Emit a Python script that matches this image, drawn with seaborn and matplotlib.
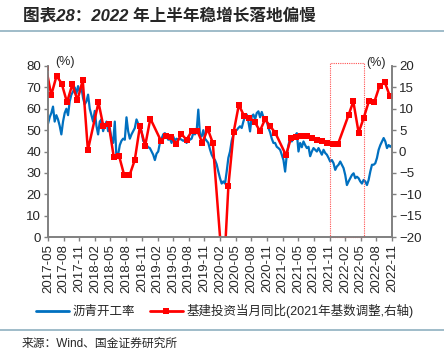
import matplotlib
matplotlib.use("Agg")
import matplotlib.pyplot as plt
from matplotlib.lines import Line2D
from matplotlib.patches import Rectangle
import pandas as pd
import seaborn as sns

# asphalt operating rate (%), roughly every 10 days from 2017-05 to 2022-11
asphalt_rate = [
    53, 56, 58, 61, 54, 57, 55, 52, 48, 54, 58, 60, 57, 63.5, 66.6, 68, 70, 67, 70.6, 68,
    70, 65, 62, 63.5, 66.6, 60, 57, 54, 59, 52, 48, 54, 55, 49.5, 52, 54, 49.5, 51, 46, 44,
    54, 37, 38.5, 43, 45, 46, 45.5, 56, 49.5, 46, 48, 49.5, 51, 55, 53, 52, 49.5, 45, 44, 43,
    42, 41.6, 40, 38.5, 36, 39, 40, 44, 46, 48, 48.6, 47, 45.5, 46, 44, 47, 45, 46, 45.5, 46,
    45.5, 45, 45.5, 44, 47, 45.5, 46, 48.6, 48, 49.5, 59.6, 48, 47, 50, 46, 45, 44, 41, 38.5, 37,
    36, 34, 30.6, 27.5, 25, 26, 25, 30.6, 37, 40,
    45, 47.8, 49.4, 50, 51, 51.8, 51, 54, 56.5, 57.3, 54, 49.4, 56.5, 57.3, 55, 58, 58.8, 56,
    58.5, 56, 55, 54, 51, 49, 46, 44, 44, 42.2, 41.6, 40.8, 38.5, 36, 30.6, 38.5, 43, 46.3,
    44.7, 46.3, 47, 48.6, 40, 44, 42, 44.7, 43, 41.6, 42.2, 37.8, 40, 41.6, 40.8, 40, 41.6, 40,
    38.5, 40.8, 39.3, 38.5, 37, 35.3, 36, 34.5, 31.4, 33, 33.8, 35.3, 33.8, 32.2, 29, 24.3, 26,
    27.5, 29, 29.8, 27.5, 28.2, 27.5, 26, 25, 26.7, 26, 24.3, 26.7, 30.6, 33.8, 33.8, 34.5, 37,
    40.8, 43, 44.7, 46.3, 44.7, 41.6, 43, 42.2, 43,
]
asphalt_start = "2017-05-01"
asphalt_end = "2022-11-01"

# infrastructure investment, monthly yoy (%), right axis
infra_months = [
    "2017-04", "2017-05", "2017-06", "2017-07", "2017-08", "2017-09", "2017-10", "2017-11", "2017-12",
    "2018-02", "2018-03", "2018-04", "2018-05", "2018-06", "2018-07", "2018-08", "2018-09", "2018-10",
    "2018-11", "2018-12",
    "2019-02", "2019-03", "2019-04", "2019-05", "2019-06", "2019-07", "2019-08", "2019-09", "2019-10",
    "2019-11", "2019-12",
    "2020-02", "2020-03", "2020-04", "2020-05", "2020-06", "2020-07", "2020-08", "2020-09", "2020-10",
    "2020-11", "2020-12",
    "2021-02", "2021-03", "2021-04", "2021-05", "2021-06", "2021-07", "2021-08", "2021-09", "2021-10",
    "2021-11", "2021-12",
    "2022-02", "2022-03", "2022-04", "2022-05", "2022-06", "2022-07", "2022-08", "2022-09", "2022-10",
]
infra_yoy = [
    19.5, 13.2, 17.7, 15.9, 11.5, 15.7, 12.0, 16.7, 0.3,
    11.5, 6.0, 6.5, -1.2, -1.0, -5.5, -5.6, -2.0, 5.9, 1.4, 7.7,
    2.5, 3.6, 3.3, 1.8, 4.1, 2.7, 4.9, 4.9, 2.0, 5.3, 2.0,
    -30.3, -8.1, 4.6, 10.9, 8.3, 7.8, 7.0, 4.8, 7.5, 5.9, 4.3,
    -0.9, 3.1, 3.5, 3.6, 3.7, 3.1, 2.7, 2.4, 2.1, 1.8, 1.7,
    8.5, 11.7, 4.4, 7.9, 11.9, 11.5, 15.3, 16.2, 12.9,
]

tick_labels = [
    "2017-05", "2017-08", "2017-11", "2018-02", "2018-05", "2018-08", "2018-11", "2019-02",
    "2019-05", "2019-08", "2019-11", "2020-02", "2020-05", "2020-08", "2020-11", "2021-02",
    "2021-05", "2021-08", "2021-11", "2022-02", "2022-05", "2022-08", "2022-11",
]

blue = "#0070C0"
red = "#FF0000"
grey = "#808080"

sns.set_style("white")
plt.rcParams['font.family'] = ['Liberation Sans', 'Noto Sans CJK SC']

fig = plt.figure(figsize=(4.44, 3.52), dpi=100)
ax = fig.add_axes([48/444, 1-237/352, 344/444, 171/352])

dates = pd.date_range(asphalt_start, asphalt_end, periods=len(asphalt_rate))
sns.lineplot(x=dates, y=asphalt_rate, ax=ax, color=blue, lw=1.6)

ax.set_ylim(0, 80)
ax.set_yticks(range(0, 81, 10))
ax.set_xlim(pd.Timestamp(asphalt_start), pd.Timestamp(asphalt_end))
ax.set_xticks(pd.to_datetime(tick_labels))
ax.set_xticklabels(tick_labels, rotation=90, fontsize=9.5)
ax.tick_params(axis='y', labelsize=9.5, direction='out', length=3, color=grey, width=1, pad=2)
ax.tick_params(axis='x', direction='out', length=3, color=grey, width=1, pad=2, bottom=True)

ax2 = ax.twinx()
infra_dates = pd.to_datetime(infra_months) + pd.Timedelta(days=19)
sns.lineplot(x=infra_dates, y=infra_yoy, ax=ax2, color=red, lw=1.8,
             marker='s', markersize=5, markeredgewidth=0)
ax2.set_ylim(-20, 20)
ax2.set_yticks(range(-20, 21, 5))
ax2.tick_params(axis='y', labelsize=9.5, direction='out', length=3, color=grey, width=1, pad=2, right=True)
ax2.set_xlim(pd.Timestamp(asphalt_start), pd.Timestamp(asphalt_end))

for a in (ax, ax2):
    a.set_xlabel("")
    a.set_ylabel("")
    a.spines['top'].set_visible(False)
    for s in ('left', 'right', 'bottom'):
        a.spines[s].set_color(grey)
        a.spines[s].set_linewidth(1.2)

# highlighted window
rect = Rectangle((pd.Timestamp("2021-11-01"), -20),
                 pd.Timestamp("2022-05-22") - pd.Timestamp("2021-11-01"), 40.7,
                 fill=False, edgecolor="#FF5050", lw=0.8, ls=(0, (1, 1)), clip_on=False)
ax2.add_patch(rect)

fig.text(65/444, 1-62/352, "(%)", ha='center', va='center', fontsize=9)
fig.text(376/444, 1-63/352, "(%)", ha='center', va='center', fontsize=9)

fig.text(23/444, 1-16/352, "图表28：2022 年上半年稳增长落地偏慢", ha='left', va='center',
         fontsize=12, fontweight='bold', style='italic')
fig.add_artist(Line2D([0, 1], [1-31/352, 1-31/352], transform=fig.transFigure, color="#8fb0c0", lw=1.2))
fig.add_artist(Line2D([0, 1], [1-330/352, 1-330/352], transform=fig.transFigure, color="#8fb0c0", lw=1.2))
fig.text(22/444, 1-344/352, "来源：Wind、国金证券研究所", ha='left', va='center', fontsize=8.5)

handles = [
    Line2D([], [], color=blue, lw=2),
    Line2D([], [], color=red, lw=2, marker='s', markersize=5, markeredgewidth=0),
]
labels = ["沥青开工率", "基建投资当月同比(2021年基数调整,右轴)"]
fig.legend(handles, labels, loc='center', bbox_to_anchor=(225/444, 1-311/352), ncol=2,
           frameon=False, fontsize=9, handlelength=2.6, handletextpad=0.3, columnspacing=1.2,
           borderaxespad=0, borderpad=0)

fig.savefig("out.png", dpi=100)
